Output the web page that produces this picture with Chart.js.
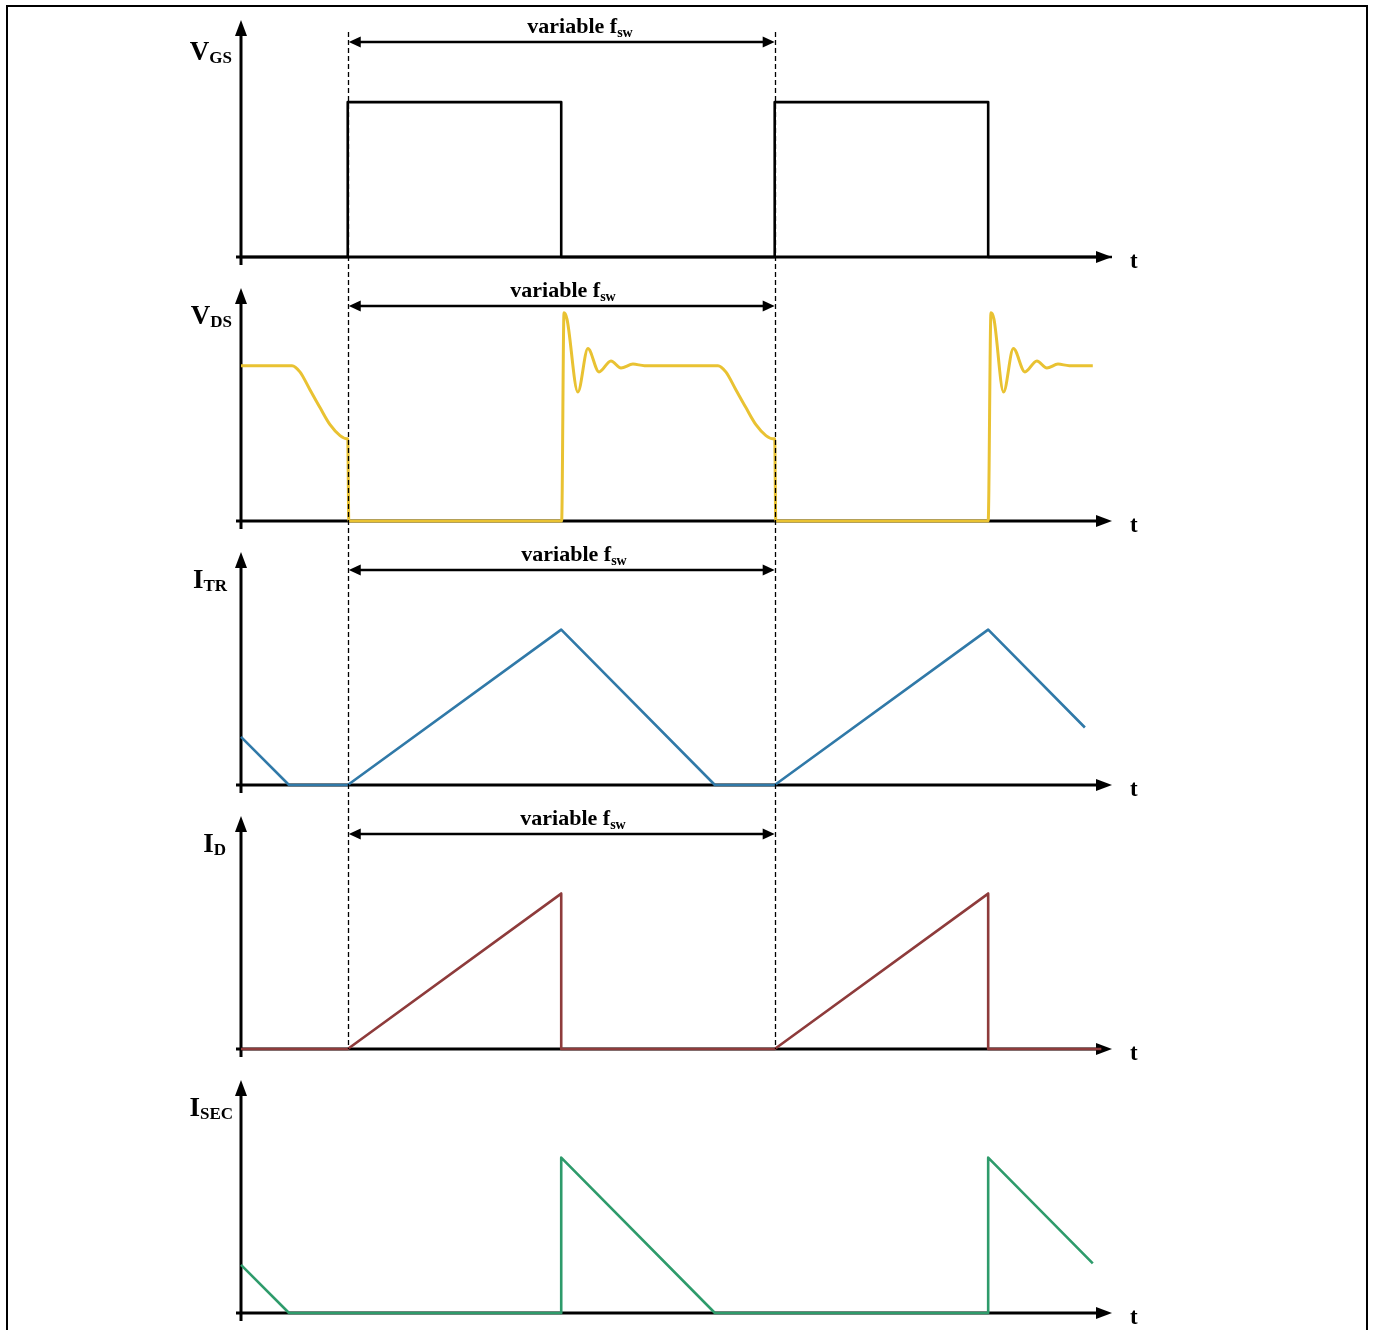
<!DOCTYPE html>
<html><head><meta charset="utf-8">
<script src="https://cdn.jsdelivr.net/npm/chart.js@4.4.0/dist/chart.umd.min.js"></script>
<style>
html,body{margin:0;padding:0;background:#fff;}
#wrap{position:relative;width:1373px;height:1330px;overflow:hidden;background:#fff;}
#frame{position:absolute;left:6px;top:5px;width:1362px;height:1400px;border:2px solid #000;box-sizing:border-box;}
canvas{position:absolute;left:0;}
</style></head><body>
<div id="wrap"><div id="frame"></div>
<canvas id="c0" width="1373" height="284" style="top:0px"></canvas>
<canvas id="c1" width="1373" height="284" style="top:264px"></canvas>
<canvas id="c2" width="1373" height="284" style="top:528px"></canvas>
<canvas id="c3" width="1373" height="284" style="top:792px"></canvas>
<canvas id="c4" width="1373" height="274" style="top:1056px"></canvas>
</div>
<script>
// ---- data (time in half-periods, amplitude normalised to peak level = 1) ----
const xMin = 0.5, xMax = 4.58;
const cycleMarks = [1, 3];               // switching instants bounding "variable f_sw"
const axisLabels = ['V', 'V', 'I', 'I', 'I'];
const axisSubs   = ['GS', 'DS', 'TR', 'D', 'SEC'];
const timeLabel  = 't';
const fswText = 'variable f';
const fswSub  = 'sw';

const vgsT = [0.5, 1, 1, 2, 2, 3, 3, 4, 4, 4.58];
const vgsV = [0, 0, 1, 1, 0, 0, 1, 1, 0, 0];

const vdsT = [0.5, 0.739, 0.776, 0.823, 0.870, 0.917, 0.964, 0.996, 1.0, 1.005,
              2.002, 2.013, 2.027, 2.078, 2.125, 2.177, 2.233, 2.28, 2.336, 2.39,
              2.734, 2.771, 2.818, 2.865, 2.912, 2.959, 2.991, 3.0, 3.005,
              4.0, 4.013, 4.027, 4.072, 4.118, 4.172, 4.228, 4.275, 4.327, 4.38, 4.49];
const vdsV = [1, 1, 0.96, 0.845, 0.73, 0.62, 0.55, 0.53, 0.53, 0,
              0, 1.34, 1.30, 0.83, 1.11, 0.96, 1.03, 0.985, 1.01, 1.0,
              1.0, 0.96, 0.845, 0.73, 0.62, 0.55, 0.53, 0.53, 0,
              0, 1.34, 1.30, 0.83, 1.11, 0.96, 1.03, 0.985, 1.01, 1.0, 1.0];

const itrT = [0.5, 0.725, 1, 2, 2.72, 3, 4, 4.453];
const itrV = [0.31, 0, 0, 1, 0, 0, 1, 0.37];

const idT = [0.5, 1, 2, 2, 3, 4, 4, 4.53];
const idV = [0, 0, 1, 0, 0, 1, 0, 0];

const isecT = [0.5, 0.725, 2, 2, 2.72, 4, 4, 4.49];
const isecV = [0.31, 0, 0, 1, 0, 0, 1, 0.32];

const seriesT = [vgsT, vdsT, itrT, idT, isecT];
const seriesV = [vgsV, vdsV, itrV, idV, isecV];
const colors  = ['#000000', '#E9C232', '#3079A8', '#8E3B3B', '#2E9B6B'];
const smooth  = [false, true, false, false, false];

// ---- per-panel layout/style ----
const panelCfg = [
  {top: 20, bottom: 27, yMax: 1.53, dashTop: 32, dashEnd: 264, fsw: 580, labelRight: 232},
  {top: 24, bottom: 27, yMax: 1.50, dashTop: 0,  dashEnd: 264, fsw: 563, labelRight: 232},
  {top: 24, bottom: 27, yMax: 1.50, dashTop: 0,  dashEnd: 264, fsw: 574, labelRight: 227},
  {top: 24, bottom: 27, yMax: 1.50, dashTop: 0,  dashEnd: 'base', fsw: 573, labelRight: 226},
  {top: 24, bottom: 17, yMax: 1.50, dashTop: null, dashEnd: null, fsw: null, labelRight: 233}
];
const SERIF = '"Liberation Serif", "Times New Roman", serif';

function arrowHead(ctx, tipX, tipY, dir, len, half) {
  ctx.beginPath();
  if (dir === 'up') { ctx.moveTo(tipX, tipY); ctx.lineTo(tipX - half, tipY + len); ctx.lineTo(tipX + half, tipY + len); }
  if (dir === 'right') { ctx.moveTo(tipX, tipY); ctx.lineTo(tipX - len, tipY - half); ctx.lineTo(tipX - len, tipY + half); }
  if (dir === 'left') { ctx.moveTo(tipX, tipY); ctx.lineTo(tipX + len, tipY - half); ctx.lineTo(tipX + len, tipY + half); }
  ctx.closePath(); ctx.fill();
}

const overlay = {
  id: 'overlay',
  beforeDatasetsDraw(chart, args, o) {
    const {ctx, chartArea: a, scales: {x, y}} = chart;
    const x0 = x.getPixelForValue(xMin), y0 = y.getPixelForValue(0);
    ctx.save();
    ctx.strokeStyle = '#000'; ctx.fillStyle = '#000'; ctx.lineWidth = 3;
    ctx.beginPath(); ctx.moveTo(x0, y0 + 8); ctx.lineTo(x0, a.top + 12); ctx.stroke();
    arrowHead(ctx, x0, a.top, 'up', 16, 6);
    ctx.beginPath(); ctx.moveTo(x0 - 5, y0); ctx.lineTo(a.right - 12, y0); ctx.stroke();
    arrowHead(ctx, a.right, y0, 'right', 16, 6);
    ctx.restore();
  },
  afterDatasetsDraw(chart, args, o) {
    const {ctx, chartArea: a, scales: {x, y}} = chart;
    const y0 = y.getPixelForValue(0);
    ctx.save();
    ctx.fillStyle = '#000'; ctx.strokeStyle = '#000';
    if (o.dashTop !== null) {
      ctx.setLineDash([5, 3]); ctx.lineWidth = 1.3;
      for (const t of cycleMarks) {
        const px = Math.round(x.getPixelForValue(t)) + 0.5;
        ctx.beginPath(); ctx.moveTo(px, o.dashTop); ctx.lineTo(px, o.dashEnd === 'base' ? y0 : o.dashEnd); ctx.stroke();
      }
      ctx.setLineDash([]);
    }
    if (o.fsw !== null) {
      const xa = x.getPixelForValue(cycleMarks[0]) + 1, xb = x.getPixelForValue(cycleMarks[1]);
      const ya = 42;
      ctx.lineWidth = 2.5;
      ctx.beginPath(); ctx.moveTo(xa + 8, ya); ctx.lineTo(xb - 8, ya); ctx.stroke();
      arrowHead(ctx, xa, ya, 'left', 12, 5.5);
      arrowHead(ctx, xb, ya, 'right', 12, 5.5);
      ctx.font = 'bold 22px ' + SERIF;
      const w1 = ctx.measureText(fswText).width;
      ctx.font = 'bold 14px ' + SERIF;
      const w2 = ctx.measureText(fswSub).width;
      const sx = o.fsw - (w1 + w2) / 2;
      ctx.textBaseline = 'alphabetic'; ctx.textAlign = 'left';
      ctx.font = 'bold 22px ' + SERIF; ctx.fillText(fswText, sx, 33);
      ctx.font = 'bold 14px ' + SERIF; ctx.fillText(fswSub, sx + w1, 37);
    }
    ctx.textAlign = 'left'; ctx.textBaseline = 'alphabetic';
    ctx.font = 'bold 17px ' + SERIF;
    const ws = ctx.measureText(o.sub).width;
    ctx.font = 'bold 27px ' + SERIF;
    const wm = ctx.measureText(o.main).width;
    const lx = o.labelRight - ws - wm;
    ctx.fillText(o.main, lx, 60);
    ctx.font = 'bold 17px ' + SERIF;
    ctx.fillText(o.sub, lx + wm, 63);
    ctx.font = 'bold 23px ' + SERIF;
    ctx.fillText(timeLabel, a.right + 18, y0 + 11);
    ctx.restore();
  }
};

for (let i = 0; i < 5; i++) {
  const c = panelCfg[i];
  const pts = seriesT[i].map((t, k) => ({x: t, y: seriesV[i][k]}));
  new Chart(document.getElementById('c' + i), {
    type: 'line',
    data: {datasets: [{data: pts, borderColor: colors[i], borderWidth: i === 1 ? 3 : 2.6, pointRadius: 0,
                       tension: 0, cubicInterpolationMode: smooth[i] ? 'monotone' : 'default',
                       clip: false, fill: false, borderJoinStyle: 'round'}]},
    options: {
      responsive: false, animation: false, devicePixelRatio: 1,
      layout: {padding: {left: 241, right: 261, top: c.top, bottom: c.bottom}},
      scales: {
        x: {type: 'linear', min: xMin, max: xMax, display: false},
        y: {type: 'linear', min: 0, max: c.yMax, display: false}
      },
      plugins: {
        legend: {display: false}, tooltip: {enabled: false},
        overlay: {main: axisLabels[i], sub: axisSubs[i], dashTop: c.dashTop, dashEnd: c.dashEnd,
                  fsw: c.fsw, labelRight: c.labelRight}
      }
    },
    plugins: [overlay]
  });
}
</script>
</body></html>
